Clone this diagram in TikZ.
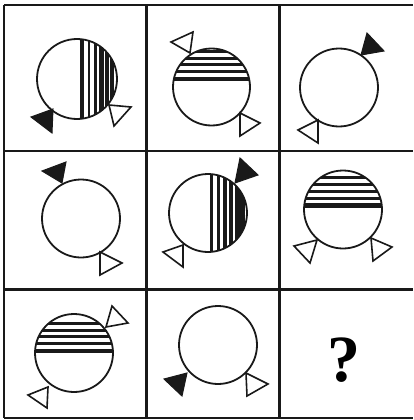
\documentclass[tikz,border=0pt]{standalone}
\usepackage{fontspec}
\setmainfont{Liberation Serif}
\begin{document}
\begin{tikzpicture}[x=1pt,y=-1pt,
  grid/.style={line width=2.8pt, black!90},
  ring/.style={line width=1.8pt, black!90},
  wtri/.style={line width=1.6pt, black!90, fill=white, line join=miter},
  btri/.style={line width=1pt, black!90, fill=black!90, line join=miter},
  stripe/.style={black!90}]
\useasboundingbox (0,0) rectangle (413,420);
% grid
\draw[grid] (4,5) -- (413,5);
\draw[grid] (4,151) -- (413,151);
\draw[grid] (4,289.5) -- (413,289.5);
\draw[grid] (4,418) -- (413,418);
\draw[grid] (4,5) -- (4,418);
\draw[grid] (146.5,5) -- (146.5,418);
\draw[grid] (279.5,5) -- (279.5,418);

% cell 1: vertical stripes right
\begin{scope}
\clip (77,79) circle (40);
\foreach \x/\w in {82/3.2, 89/2.6, 95.5/3.2, 101.5/4.2, 107/4.2, 112/4.5}
  \draw[stripe, line width=\w pt] (\x,30) -- (\x,130);
\end{scope}
\draw[ring] (77,79) circle (40);
\draw[btri] (31,117) -- (53,109) -- (52,133) -- cycle;
\draw[wtri] (109,105) -- (131,107) -- (114,126) -- cycle;

% cell 2: horizontal stripes top
\begin{scope}
\clip (211.5,87) circle (38.5);
\foreach \y/\w in {52/3, 58.5/3, 65/3, 71/3, 79/3.8}
  \draw[stripe, line width=\w pt] (160,\y) -- (260,\y);
\end{scope}
\draw[ring] (211.5,87) circle (38.5);
\draw[wtri] (171,42) -- (193,32) -- (190,53) -- cycle;
\draw[wtri] (240,113) -- (260,123) -- (240,136) -- cycle;

% cell 3
\draw[ring] (339,87.5) circle (39);
\draw[btri] (361,55) -- (367,33) -- (384,51) -- cycle;
\draw[wtri] (298,130) -- (318,120) -- (318,143) -- cycle;

% cell 4
\draw[ring] (81,218.5) circle (39);
\draw[btri] (42,171) -- (66,162) -- (62,183) -- cycle;
\draw[wtri] (100,252) -- (122,263) -- (100,275) -- cycle;

% cell 5: vertical stripes right
\begin{scope}
\clip (208,213) circle (39);
\foreach \x/\w in {211.5/3.2, 218.5/2.6, 225/3.2, 231/4.2, 237/5, 242.5/4.5}
  \draw[stripe, line width=\w pt] (\x,170) -- (\x,260);
\end{scope}
\draw[ring] (208,213) circle (39);
\draw[btri] (235,183) -- (240,158) -- (258,175) -- cycle;
\draw[wtri] (163,252) -- (183,245) -- (183,267) -- cycle;

% cell 6: horizontal stripes top
\begin{scope}
\clip (343,209.5) circle (39);
\foreach \y/\w in {177/3, 184.5/3, 191.5/3, 198.5/3, 205.5/4.2}
  \draw[stripe, line width=\w pt] (300,\y) -- (390,\y);
\end{scope}
\draw[ring] (343,209.5) circle (39);
\draw[wtri] (294,246) -- (317,240) -- (310,263) -- cycle;
\draw[wtri] (371,238) -- (392,247) -- (373,261) -- cycle;

% cell 7: horizontal stripes top
\begin{scope}
\clip (74,353) circle (39);
\foreach \y/\w in {323/3, 330/3, 336.5/3, 343/3, 351/3.8}
  \draw[stripe, line width=\w pt] (30,\y) -- (120,\y);
\end{scope}
\draw[ring] (74,353) circle (39);
\draw[wtri] (106,327) -- (112,306) -- (128,323) -- cycle;
\draw[wtri] (28,395) -- (48,387) -- (47,408) -- cycle;

% cell 8
\draw[ring] (218,345) circle (39);
\draw[btri] (164,379) -- (187,373) -- (182,396) -- cycle;
\draw[wtri] (246,373) -- (268,384) -- (247,396) -- cycle;

% cell 9
\node (q) at (344,360) {\fontsize{66}{70}\selectfont\bfseries ?};
\end{tikzpicture}
\end{document}
